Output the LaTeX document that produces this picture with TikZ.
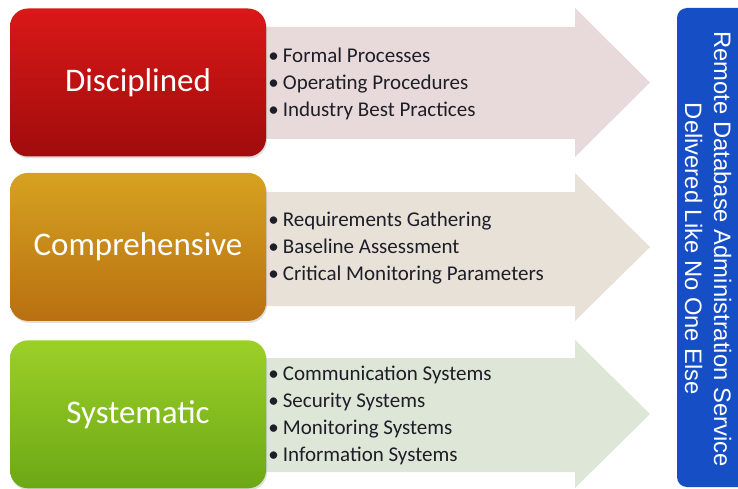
\documentclass[tikz,border=0pt]{standalone}
\usepackage{fontspec}
\setmainfont{Carlito}
\newfontfamily\barfont{Liberation Sans}
\usetikzlibrary{positioning,shadows}

\definecolor{discTop}{RGB}{218,24,24}
\definecolor{discBot}{RGB}{160,12,12}
\definecolor{compTop}{RGB}{214,162,32}
\definecolor{compBot}{RGB}{184,112,18}
\definecolor{systTop}{RGB}{156,208,40}
\definecolor{systBot}{RGB}{108,168,22}
\definecolor{discArrow}{RGB}{232,218,218}
\definecolor{compArrow}{RGB}{231,225,216}
\definecolor{systArrow}{RGB}{222,230,215}
\definecolor{barBlue}{RGB}{22,78,198}
\definecolor{listGray}{RGB}{30,30,40}

\begin{document}
\begin{tikzpicture}[x=1pt, y=-1pt,
  box/.style = {rounded corners=18pt, minimum width=256pt, minimum height=148pt,
                text=white, font=\fontsize{33}{38}\selectfont,
                drop shadow={opacity=0.25, shadow xshift=1pt, shadow yshift=-2pt}},
  list/.style = {align=left, inner sep=0pt, text=listGray, yshift=-1.5pt,
                 font=\fontsize{21}{27}\selectfont}]
\clip (0,0) rectangle (738,489);

% the three wide arrows behind the boxes
\fill[discArrow] (250,27) -- (575,27) -- (575,8) -- (650,82.5)
  -- (575,157) -- (575,139) -- (250,139) -- cycle;
\fill[compArrow] (250,192) -- (575,192) -- (575,173) -- (650,247)
  -- (575,321) -- (575,306) -- (250,306) -- cycle;
\fill[systArrow] (250,358) -- (575,358) -- (575,340) -- (650,414)
  -- (575,488) -- (575,472) -- (250,472) -- cycle;

% boxes
\node[box, top color=discTop, bottom color=discBot] (disc) at (138,82.5) {Disciplined};
\node[box, top color=compTop, bottom color=compBot] (comp) [below=16pt of disc] {Comprehensive};
\node[box, top color=systTop, bottom color=systBot] (syst) [below=19pt of comp] {Systematic};

% bullet lists
\node[list] (discList) [right=2pt of disc] {\textbullet\hspace{4pt}Formal Processes\\
  \textbullet\hspace{4pt}Operating Procedures\\
  \textbullet\hspace{4pt}Industry Best Practices};
\node[list] (compList) [right=2pt of comp] {\textbullet\hspace{4pt}Requirements Gathering\\
  \textbullet\hspace{4pt}Baseline Assessment\\
  \textbullet\hspace{4pt}Critical Monitoring Parameters};
\node[list] (systList) [right=2pt of syst] {\textbullet\hspace{4pt}Communication Systems\\
  \textbullet\hspace{4pt}Security Systems\\
  \textbullet\hspace{4pt}Monitoring Systems\\
  \textbullet\hspace{4pt}Information Systems};

% blue bar on the right
\fill[barBlue, rounded corners=10pt] (677,8) rectangle (760,487);
\node (service) at (708,249) [rotate=-90, align=center, text=white,
  font=\barfont\fontsize{23.8}{29}\selectfont]
  {Remote Database Administration Service\\ Delivered Like No One Else};

\end{tikzpicture}
\end{document}
